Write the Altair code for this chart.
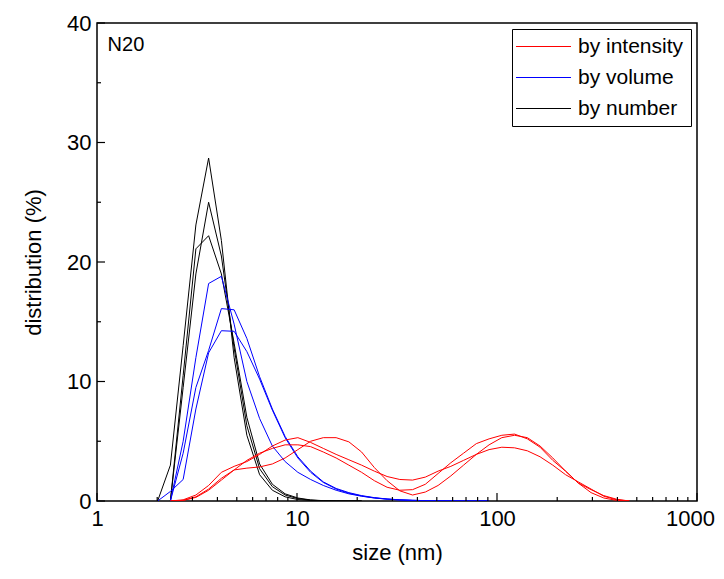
import altair as alt
import pandas as pd

# DLS size bins (nm)
SIZES = [2.01, 2.328, 2.696, 3.122, 3.615, 4.187, 4.849, 5.615, 6.503, 7.531,
         8.721, 10.1, 11.7, 13.54, 15.69, 18.17, 21.04, 24.36, 28.21, 32.67,
         37.84, 43.82, 50.75, 58.77, 68.06, 78.82, 91.28, 105.7, 122.4, 141.8,
         164.2, 190.1, 220.2, 255.0, 295.3, 342.0, 396.1, 458.7, 531.2]

N = None
# by number (black)
NUM_1 = [0, 3.0, 13.0, 23.1, 28.7, 21.8, 12.0, 5.5, 2.2, 0.9, 0.35, 0.12, 0.04, 0.01, 0, 0, 0] + [N] * 22
NUM_2 = [N, 0, 9.5, 19.0, 25.0, 20.5, 12.8, 6.3, 2.7, 1.2, 0.5, 0.2, 0.07, 0.02, 0, 0, 0] + [N] * 22
NUM_3 = [N, 0, 10.5, 21.1, 22.2, 19.0, 13.2, 7.0, 3.1, 1.4, 0.6, 0.25, 0.09, 0.03, 0.01, 0, 0] + [N] * 22

# by volume (blue)
VOL_1 = [N, 0, 5.0, 12.0, 18.2, 18.8, 14.8, 10.0, 6.9, 4.6, 3.3, 2.4, 1.8, 1.3, 0.9, 0.6, 0.4,
         0.25, 0.15, 0.08, 0.04, 0.02, 0.01, 0, 0, 0, 0] + [N] * 12
VOL_2 = [N, 0, 4.0, 9.5, 12.6, 16.1, 16.0, 13.6, 10.4, 7.7, 5.4, 3.7, 2.5, 1.6, 1.05, 0.7, 0.45,
         0.28, 0.17, 0.1, 0.06, 0.03, 0.015, 0.01, 0, 0, 0] + [N] * 12
VOL_3 = [0, 0.8, 1.8, 7.7, 12.4, 14.25, 14.2, 12.5, 10.2, 7.6, 5.3, 3.6, 2.4, 1.55, 1.0, 0.65, 0.42,
         0.26, 0.16, 0.1, 0.06, 0.03, 0.02, 0.01, 0.005, 0, 0] + [N] * 12

# by intensity (red)
INT_1 = [N, 0, 0.1, 0.5, 1.3, 2.4, 2.9, 3.3, 3.9, 4.6, 5.1, 5.3, 4.9, 4.4, 3.9, 3.45, 3.0, 2.5,
         2.05, 1.8, 1.75, 2.0, 2.5, 2.9, 3.4, 3.9, 4.3, 4.5, 4.45, 4.2, 3.7, 3.0, 2.2, 1.6,
         1.0, 0.4, 0.1, 0, N]
INT_2 = [N, 0, 0.05, 0.35, 1.0, 1.9, 2.6, 3.4, 4.0, 4.4, 4.7, 4.7, 4.55, 4.1, 3.6, 3.0, 2.4, 1.7,
         1.15, 0.9, 0.95, 1.4, 2.3, 3.2, 4.0, 4.8, 5.2, 5.5, 5.6, 5.2, 4.5, 3.4, 2.5, 1.5,
         0.95, 0.45, 0.15, 0, N]
INT_3 = [N, 0, 0.05, 0.3, 0.9, 1.75, 2.6, 2.75, 2.85, 3.1, 3.6, 4.3, 5.0, 5.3, 5.3, 4.95, 4.1, 2.8,
         1.7, 0.85, 0.5, 0.75, 1.3, 2.1, 3.0, 3.9, 4.7, 5.3, 5.5, 5.3, 4.6, 3.6, 2.5, 1.5,
         0.7, 0.25, 0.05, 0, N]

TYPES = ["by intensity", "by volume", "by number"]
COLORS = ["#FF0000", "#0000FF", "#000000"]

SERIES = [
    ("by number", "n1", NUM_1), ("by number", "n2", NUM_2), ("by number", "n3", NUM_3),
    ("by volume", "v1", VOL_1), ("by volume", "v2", VOL_2), ("by volume", "v3", VOL_3),
    ("by intensity", "i1", INT_1), ("by intensity", "i2", INT_2), ("by intensity", "i3", INT_3),
]

X_MAJOR = [1, 10, 100, 1000]
X_MINOR = [2, 3, 4, 5, 6, 7, 8, 9, 20, 30, 40, 50, 60, 70, 80, 90,
           200, 300, 400, 500, 600, 700, 800, 900]
Y_MAJOR = [0, 10, 20, 30, 40]
Y_MINOR = [5, 15, 25, 35]

rows = []
for t, run, vals in SERIES:
    for s, v in zip(SIZES, vals):
        if v is not None:
            rows.append({"size": s, "dist": v, "type": t, "run": run})
df = pd.DataFrame(rows)

FONT = "Liberation Sans"
W, H = 600, 478

xscale = alt.Scale(type="log", domain=[1, 1000], nice=False)
yscale = alt.Scale(domain=[0, 40], nice=False, zero=False)
xaxis = alt.Axis(values=X_MAJOR, format="d", title="size (nm)", ticks=False, domain=False,
                 grid=False, labelFontSize=22, labelPadding=7, labelFlush=False,
                 labelOffset={"condition": {"test": "datum.value >= 1000", "value": -7}, "value": 0},
                 titleFontSize=22, titleFontWeight="normal", titleX=W / 2, titleY=51,
                 titleBaseline="middle",
                 labelFont=FONT, titleFont=FONT, labelColor="black", titleColor="black")
yaxis = alt.Axis(values=Y_MAJOR, title="distribution (%)", ticks=False, domain=False,
                 grid=False, labelFontSize=22, labelPadding=6, labelFlush=False,
                 titleFontSize=22, titleFontWeight="normal", titleX=-64, titleY=H / 2,
                 titleBaseline="middle", titleAngle=270, titleAlign="center",
                 labelFont=FONT, titleFont=FONT, labelColor="black", titleColor="black")

X = alt.X("size:Q", scale=xscale, axis=xaxis)
Y = alt.Y("dist:Q", scale=yscale, axis=yaxis)

lines = alt.Chart(df).mark_line(strokeWidth=1, clip=True).encode(
    x=X, y=Y,
    color=alt.Color("type:N", scale=alt.Scale(domain=TYPES, range=COLORS),
                    legend=alt.Legend(title=None, orient="top-right", offset=6,
                                      symbolType="M-3,0H3", symbolSize=336,
                                      symbolStrokeWidth=1, symbolOffset=14,
                                      labelFontSize=21,
                                      labelFont=FONT, labelColor="black",
                                      labelOffset=24, rowPadding=9, padding=7,
                                      strokeColor="black", fillColor="white")),
    detail="run:N",
)

xmaj = alt.Chart(pd.DataFrame({"size": X_MAJOR})).mark_rule(color="black", strokeWidth=1.2).encode(
    x=X, y=alt.value(H), y2=alt.value(H - 8))
xmin = alt.Chart(pd.DataFrame({"size": X_MINOR})).mark_rule(color="black", strokeWidth=1.2).encode(
    x=X, y=alt.value(H), y2=alt.value(H - 4))
ymaj = alt.Chart(pd.DataFrame({"dist": Y_MAJOR})).mark_rule(color="black", strokeWidth=1.2).encode(
    y=Y, x=alt.value(0), x2=alt.value(8))
ymin = alt.Chart(pd.DataFrame({"dist": Y_MINOR})).mark_rule(color="black", strokeWidth=1.2).encode(
    y=Y, x=alt.value(0), x2=alt.value(4))

label = alt.Chart(pd.DataFrame({"size": [1.13], "dist": [38.2], "txt": ["N20"]})).mark_text(
    align="left", baseline="middle", fontSize=20, font=FONT, color="black").encode(
    x=X, y=Y, text="txt:N")

chart = alt.layer(lines, xmaj, xmin, ymaj, ymin, label).properties(
    width=W, height=H,
    background="white",
    autosize=alt.AutoSizeParams(type="none"),
    padding={"left": 89, "top": 15, "right": 19, "bottom": 69},
).configure_view(stroke="black", strokeWidth=1.5)

chart.save("out.html", embed_options={"renderer": "svg", "actions": False})
